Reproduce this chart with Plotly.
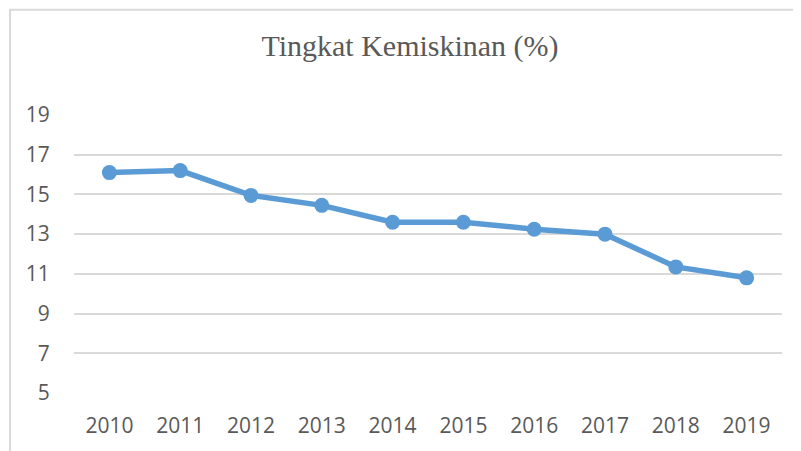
import plotly.graph_objects as go

years = ["2010", "2011", "2012", "2013", "2014", "2015", "2016", "2017", "2018", "2019"]
poverty = [16.1, 16.2, 14.95, 14.45, 13.6, 13.6, 13.25, 13.0, 11.35, 10.8]
y_ticks = [5, 7, 9, 11, 13, 15, 17, 19]

# page has an 8px body margin; work in figure coordinates
OFF = 8
W, H = 801 - OFF, 451 - OFF
L, R, T, B = 74 - OFF, 782 - OFF, 115 - OFF, 395 - OFF
pw, ph = R - L, B - T

fig = go.Figure()
fig.add_trace(go.Scatter(
    x=years, y=poverty, mode="lines+markers",
    line=dict(color="#5b9bd5", width=5.5),
    marker=dict(color="#5b9bd5", size=15),
    hoverinfo="x+y", showlegend=False,
))

def px_x(x):
    return (x - L) / pw

def px_y(y):
    return (B - y) / ph

fig.update_layout(
    width=W, height=H,
    margin=dict(l=L, r=W - R, t=T, b=H - B),
    paper_bgcolor="white", plot_bgcolor="white",
    title=dict(text="Tingkat Kemiskinan (%)", x=402 / W, xanchor="center",
               y=1 - 37 / H, yanchor="middle",
               font=dict(family="Liberation Serif", size=30, color="#595959")),
    xaxis=dict(type="category", range=[-0.5, 9.5], showgrid=False, zeroline=False,
               showline=False, ticks="outside", ticklen=14, tickcolor="rgba(0,0,0,0)",
               tickfont=dict(family="Open Sans", size=21, color="#595959")),
    yaxis=dict(range=[5, 19], tickvals=y_ticks, showgrid=True, gridcolor="#d9d9d9",
               gridwidth=1.5, zeroline=False, showline=False, ticks="outside",
               ticklen=19, tickcolor="rgba(0,0,0,0)",
               tickfont=dict(family="Open Sans", size=21, color="#595959")),
    shapes=[dict(type="rect", xref="paper", yref="paper",
                 x0=px_x(2), x1=px_x(830), y0=px_y(480), y1=px_y(1),
                 line=dict(color="#d9d9d9", width=2), fillcolor="rgba(0,0,0,0)",
                 layer="below")],
)

fig.write_html("out.html")
